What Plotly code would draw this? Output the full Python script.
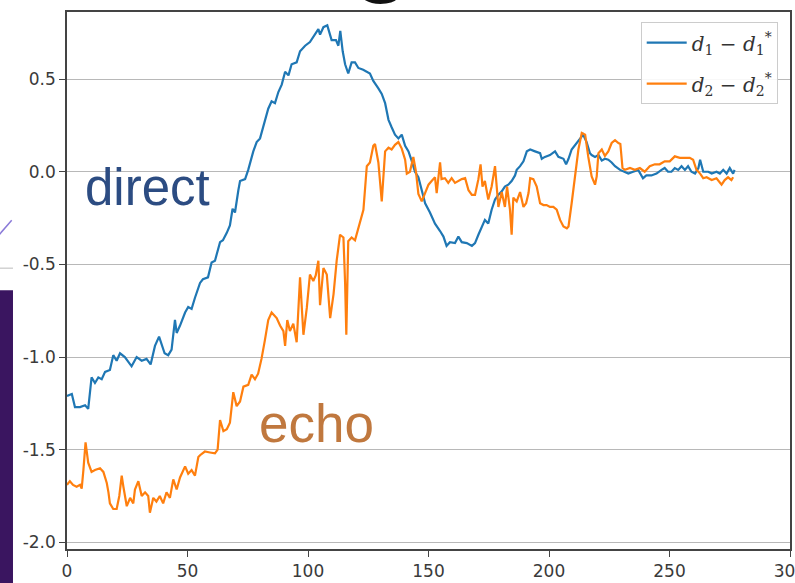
import plotly.graph_objects as go

# ---- data ----
blue_x = [0, 2, 3.3, 5.4, 7.5, 8.8, 10.2, 11.6, 13, 14.4, 15.8, 17.8, 19.2, 20.6, 22, 24, 26.8, 28.9, 31, 33,
          34.7, 36.5, 38.2, 40.5, 42, 43.4, 44.8, 45.5, 46.9, 49, 50.3, 51.7, 53.1, 55.2, 56.4, 58.5, 60, 61.4,
          63.5, 64.7, 66.3, 67.6, 68.7, 69.7, 71.1, 71.8, 73.9, 75.2, 77.3, 78.7, 80.1, 81.5, 83.5, 84.9, 86.3,
          87.7, 89.1, 90.5, 91.9, 93.2, 95.3, 96.7, 98.8, 100.8, 102.9, 104.3, 105, 106.4, 108, 109.8, 111.6,
          112.6, 113.4, 114.4, 115.4, 116.7, 118.1, 119.5, 120.9, 122.9, 125.7, 127.1, 129.2, 130.6, 132, 133.4,
          134.7, 136.1, 137.5, 138.9, 140.3, 141.7, 143, 144.4, 145.8, 147.2, 148.6, 150.6, 152.7, 154.8, 156.2,
          157.5, 158.9, 161, 162.4, 163.8, 165.9, 168, 169.3, 170.7, 172.1, 173.4, 174.8, 176.2, 177.6, 179,
          180.4, 181.7, 183.1, 184.5, 185.9, 186.6, 188, 189.4, 190.8, 192.2, 194.2, 196.3, 197, 198.3, 200.4,
          202.5, 203.9, 206, 207.1, 208.1, 209.4, 211.5, 213.6, 214.2, 215.6, 217, 217.7, 219.1, 220.5, 221.9,
          223.2, 224.6, 226, 227.4, 229.5, 231.5, 232.9, 234.9, 237, 239, 240.4, 242.5, 244.6, 246.7, 248,
          249.4, 250.8, 252.2, 253.6, 255, 256.4, 257.7, 259.1, 260.6, 262, 262.7, 264, 266.1, 267.5, 269.5,
          270.9, 272.3, 273.7, 275, 276.4, 277]
blue_y = [-1.21, -1.20, -1.27, -1.27, -1.26, -1.28, -1.11, -1.14, -1.11, -1.12, -1.08, -1.07, -0.99, -1.02,
          -0.98, -1.00, -1.05, -1.00, -1.02, -1.01, -1.04, -0.94, -0.89, -0.98, -0.99, -0.96, -0.80, -0.87,
          -0.83, -0.76, -0.73, -0.74, -0.68, -0.60, -0.58, -0.57, -0.49, -0.48, -0.38, -0.37, -0.33, -0.29,
          -0.20, -0.22, -0.10, -0.05, -0.04, 0.01, 0.11, 0.16, 0.18, 0.25, 0.34, 0.38, 0.37, 0.43, 0.47, 0.54,
          0.52, 0.58, 0.59, 0.65, 0.68, 0.70, 0.74, 0.77, 0.74, 0.78, 0.79, 0.71, 0.71, 0.68, 0.76, 0.65, 0.58,
          0.53, 0.59, 0.59, 0.56, 0.55, 0.53, 0.49, 0.45, 0.42, 0.37, 0.28, 0.24, 0.20, 0.18, 0.20, 0.14, 0.11,
          0.06, 0.00, -0.03, -0.10, -0.17, -0.22, -0.28, -0.32, -0.35, -0.40, -0.38, -0.385, -0.35, -0.38,
          -0.385, -0.40, -0.385, -0.34, -0.295, -0.26, -0.28, -0.205, -0.15, -0.124, -0.106, -0.08, -0.07,
          -0.05, -0.02, 0.01, 0.03, 0.056, 0.11, 0.12, 0.11, 0.10, 0.07, 0.08, 0.09, 0.11, 0.08, 0.07, 0.04,
          0.07, 0.12, 0.155, 0.19, 0.20, 0.16, 0.10, 0.09, 0.08, 0.09, 0.06, 0.07, 0.065, 0.05, 0.03, 0.01,
          0.00, -0.01, 0.00, 0.01, -0.035, -0.02, -0.02, -0.01, 0.01, 0.02, 0.00, 0.00, 0.02, 0.01, 0.03, 0.01,
          0.03, 0.00, -0.01, 0.02, 0.065, 0.0, 0.0, -0.01, 0.0, -0.01, 0.01, -0.01, 0.02, -0.01, 0.01]

orange_x = [0, 1.2, 2.5, 4, 5.4, 6.1, 6.8, 7.7, 8.8, 10.2, 11.6, 13.7, 15.1, 16.5, 17.2, 17.8, 19.2, 20.6,
            21.7, 22.7, 23.4, 24.8, 26.2, 27.5, 28.2, 29.6, 31, 32.4, 33.7, 34.4, 35.8, 37.1, 38.5, 39.9, 41.3,
            42.7, 44.1, 45.5, 46.9, 49, 50.3, 51.7, 53.1, 54.5, 55.2, 57.2, 59.3, 61.4, 62.5, 63.5, 64.9, 66.3,
            67.6, 69, 70.4, 71.8, 73.2, 75.2, 76.6, 78, 79.3, 80.7, 82.1, 83.5, 84.9, 87, 88.4, 89.8, 90.5, 91.4,
            92.5, 93.9, 95.3, 96.7, 98.1, 99.5, 100.8, 102.2, 103.2, 104.3, 105, 106.4, 107.8, 109.2, 110.6,
            111.9, 113.3, 114.7, 115.4, 115.9, 116.7, 118.1, 119.5, 120.9, 121.6, 123, 124.4, 125.7, 127.1,
            127.8, 129.2, 130.6, 132, 133.4, 134.7, 136.1, 137.5, 138.9, 140.3, 141, 142.3, 143.7, 144.8, 145.8,
            147.2, 148.6, 150, 151.3, 152.7, 153.4, 154.8, 155.4, 156.8, 158.2, 159.6, 161, 162.4, 163.8, 165.2,
            166.6, 168, 169.3, 170.7, 171.6, 172.4, 173.4, 174.8, 176.2, 177.6, 179, 180.4, 181.7, 182.6, 183.8,
            184.5, 185.2, 186.6, 188, 189.4, 190.5, 191.5, 192.2, 193.5, 194.9, 196.3, 197.7, 199, 200.4, 201.8,
            203.2, 204.6, 206, 207.4, 208.1, 209.4, 210.8, 212.2, 213.6, 215, 216.3, 217.7, 219.1, 219.8, 220.5,
            221.9, 223.2, 224.6, 226, 227.4, 228.8, 229.6, 230.5, 231.5, 233.6, 235.6, 237.7, 239.7, 241.8,
            243.9, 245.9, 248, 250.1, 252.2, 254.3, 256.3, 258.4, 259.8, 261.2, 262.7, 264, 265.4, 267.5, 269.5,
            271.6, 272.9, 274.3, 275.7, 276.4]
orange_y = [-1.69, -1.67, -1.69, -1.70, -1.69, -1.71, -1.61, -1.46, -1.57, -1.62, -1.61, -1.60, -1.62, -1.68,
            -1.73, -1.79, -1.82, -1.82, -1.75, -1.64, -1.70, -1.805, -1.76, -1.79, -1.715, -1.67, -1.75, -1.73,
            -1.75, -1.84, -1.76, -1.78, -1.75, -1.79, -1.73, -1.76, -1.66, -1.715, -1.65, -1.59, -1.63, -1.61,
            -1.64, -1.54, -1.53, -1.51, -1.515, -1.52, -1.50, -1.34, -1.40, -1.39, -1.355, -1.19, -1.265, -1.24,
            -1.16, -1.15, -1.095, -1.12, -1.09, -1.01, -0.91, -0.80, -0.76, -0.79, -0.83, -0.86, -0.94, -0.80,
            -0.86, -0.82, -0.92, -0.57, -0.88, -0.735, -0.555, -0.59, -0.56, -0.48, -0.72, -0.52, -0.555, -0.79,
            -0.66, -0.48, -0.34, -0.355, -0.60, -0.88, -0.375, -0.355, -0.37, -0.30, -0.28, -0.205, 0.03, 0.05,
            0.14, 0.15, 0.05, -0.16, 0.11, 0.13, 0.12, 0.145, 0.16, 0.125, 0.065, -0.01, 0.0, 0.08, 0.0, -0.12,
            -0.16, -0.11, -0.07, -0.05, -0.03, -0.115, 0.05, -0.04, -0.035, -0.06, -0.035, -0.06, -0.05, -0.04,
            -0.035, -0.10, -0.125, -0.125, -0.04, 0.04, -0.08, -0.05, -0.15, -0.08, 0.03, -0.19, -0.11, -0.19,
            -0.08, -0.205, -0.34, -0.14, -0.16, -0.11, -0.19, -0.17, -0.115, -0.035, -0.04, -0.08, -0.17, -0.18,
            -0.18, -0.19, -0.19, -0.205, -0.26, -0.295, -0.305, -0.295, -0.17, -0.025, 0.12, 0.21, 0.20, 0.08,
            -0.025, -0.07, -0.025, 0.10, 0.12, 0.085, 0.11, 0.155, 0.17, 0.155, 0.15, 0.02, 0.01, 0.02, 0.01,
            0.02, 0.0, 0.03, 0.04, 0.04, 0.056, 0.056, 0.083, 0.075, 0.075, 0.075, 0.065, 0.01, -0.01, -0.035,
            -0.03, -0.045, -0.035, -0.07, -0.045, -0.03, -0.045, -0.03]

series_names = ["<i>d</i><sub>1</sub> − <i>d</i><sub>1</sub><sup>*</sup>",
                "<i>d</i><sub>2</sub> − <i>d</i><sub>2</sub><sup>*</sup>"]
x_ticks = [0, 50, 100, 150, 200, 250, 300]
x_tick_labels = ["0", "50", "100", "150", "200", "250", "300"]
y_ticks = [-2.0, -1.5, -1.0, -0.5, 0.0, 0.5]
y_tick_labels = ["-2.0", "-1.5", "-1.0", "-0.5", "0.0", "0.5"]

BLUE = "#1f77b4"
ORANGE = "#ff7f0e"

fig = go.Figure()
fig.add_trace(go.Scatter(x=blue_x, y=blue_y, mode="lines", name=series_names[0], legendgroup="a",
                         line=dict(color=BLUE, width=2.2)))
fig.add_trace(go.Scatter(x=orange_x, y=orange_y, mode="lines", name=series_names[1], legendgroup="b",
                         line=dict(color=ORANGE, width=2.2)))

fig.add_annotation(x=6.6, y=-0.085, xref="x", yref="y", text="direct", showarrow=False,
                   xanchor="left", yanchor="middle",
                   font=dict(family="Liberation Sans, Arial, sans-serif", size=51, color="#2c4c82"))
fig.add_annotation(x=79.0, y=-1.36, xref="x", yref="y", text="echo", showarrow=False,
                   xanchor="left", yanchor="middle",
                   font=dict(family="Liberation Sans, Arial, sans-serif", size=53, color="#c0783e"))
# bottom of the slide title, cut off by the photo's top edge
fig.add_annotation(x=0.435, y=1.0, xref="paper", yref="paper", text="g", showarrow=False,
                   xanchor="center", yanchor="bottom", yshift=6,
                   font=dict(family="Liberation Sans, Arial, sans-serif", size=110, color="#111111"))

# slide decorations outside the axes (photo background)
fig.add_shape(type="rect", xref="paper", yref="paper", x0=-0.095, x1=-0.0747, y0=-0.07, y1=0.482,
              fillcolor="#3a1560", line=dict(width=0), layer="below")
fig.add_shape(type="line", xref="paper", yref="paper", x0=-0.095, x1=-0.0747, y0=0.523, y1=0.523,
              line=dict(color="#bbbbbb", width=1))
fig.add_shape(type="line", xref="paper", yref="paper", x0=-0.094, x1=-0.0765, y0=0.585, y1=0.612,
              line=dict(color="#8a7ad8", width=1.5))

fig.update_layout(
    width=795, height=583,
    margin=dict(l=67, r=5, t=12, b=34, autoexpand=False),
    paper_bgcolor="white", plot_bgcolor="white",
    font=dict(family="DejaVu Sans, sans-serif", size=17, color="#3a3a3a"),
    showlegend=True,
    legend=dict(x=0.983, y=0.981, xanchor="right", yanchor="top",
                bgcolor="rgba(255,255,255,0.9)", bordercolor="#cccccc", borderwidth=1,
                font=dict(family="DejaVu Serif, serif", size=20, color="#333333"),
                tracegroupgap=12, itemwidth=40),
)
fig.update_xaxes(range=[0, 300], tickvals=x_ticks, ticktext=x_tick_labels, automargin=False,
                 showgrid=False, zeroline=False, showline=True, mirror=True,
                 linecolor="#444444", linewidth=1.5, ticks="outside", ticklen=6,
                 tickcolor="#444444", tickwidth=1.2, ticklabeloverflow="allow")
fig.update_yaxes(range=[-2.036, 0.862], tickvals=y_ticks, ticktext=y_tick_labels, automargin=False,
                 showgrid=True, gridcolor="#b8b8b8", gridwidth=1.3, zeroline=False,
                 showline=True, mirror=True, linecolor="#444444", linewidth=1.5,
                 ticks="outside", ticklen=6, tickcolor="#444444", tickwidth=1.2)

fig.write_html("out.html")
